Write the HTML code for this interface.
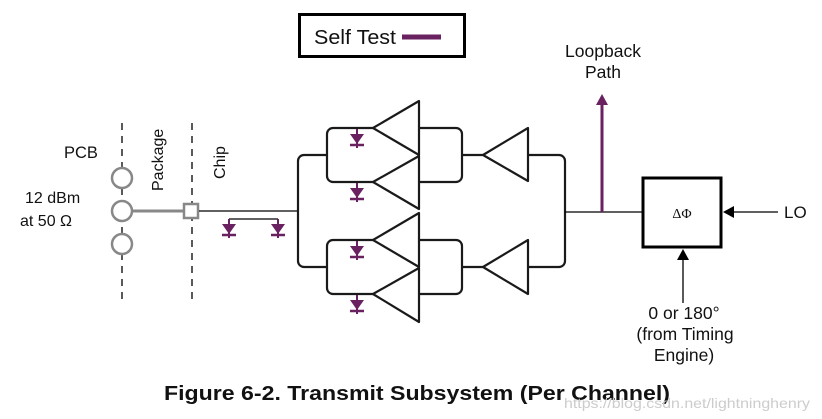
<!DOCTYPE html>
<html><head><meta charset="utf-8"><style>
body{margin:0;background:#fff;}
svg{display:block;font-family:"Liberation Sans",Arial,sans-serif;}
</style></head><body>
<svg width="822" height="419" viewBox="0 0 822 419" xmlns="http://www.w3.org/2000/svg">
<defs>
<g id="d"><line x1="0" y1="0" x2="0" y2="19" stroke="#6a2160" stroke-width="2"/><polygon points="-7,5 7,5 0,15" fill="#6a2160"/><line x1="-7" y1="16" x2="7" y2="16" stroke="#6a2160" stroke-width="2.5"/></g>
</defs>
<rect x="299.5" y="14.5" width="165" height="42" fill="#fff" stroke="#000" stroke-width="3"/>
<text x="314" y="44" font-size="20" fill="#111" textLength="82" lengthAdjust="spacingAndGlyphs">Self Test</text>
<line x1="402" y1="37" x2="441" y2="37" stroke="#6a2160" stroke-width="5"/>
<line x1="122" y1="123" x2="122" y2="302" stroke="#000" stroke-width="1.3" stroke-dasharray="7,6"/>
<line x1="192" y1="123" x2="192" y2="302" stroke="#000" stroke-width="1.3" stroke-dasharray="7,6"/>
<text x="64" y="158" font-size="16.5" fill="#111">PCB</text>
<text x="25" y="203" font-size="16" fill="#111">12 dBm</text>
<text x="20" y="226" font-size="16" fill="#111">at 50 Ω</text>
<text transform="translate(163,191) rotate(-90)" font-size="16" fill="#111">Package</text>
<text transform="translate(225,179) rotate(-90)" font-size="16" fill="#111">Chip</text>
<g fill="#fff" stroke="#888" stroke-width="2.5">
<circle cx="122" cy="178" r="10"/><circle cx="122" cy="211" r="10"/><circle cx="122" cy="244" r="10"/>
</g>
<line x1="132" y1="211" x2="183" y2="211" stroke="#888" stroke-width="3"/>
<rect x="184" y="204" width="14" height="14" fill="#fff" stroke="#888" stroke-width="2.5"/>
<line x1="199" y1="211" x2="297" y2="211" stroke="#000" stroke-width="1.3"/>
<line x1="229" y1="219" x2="278" y2="219" stroke="#000" stroke-width="1.3"/>
<use href="#d" x="229" y="219"/><use href="#d" x="278" y="219"/>
<g fill="none" stroke="#1a1a1a" stroke-width="2.2" stroke-linejoin="round">
<path d="M327,155 H304 a6,6 0 0 0 -6,6 V261 a6,6 0 0 0 6,6 H327"/>
<path d="M373,128 H333 a6,6 0 0 0 -6,6 V176 a6,6 0 0 0 6,6 H373"/>
<path d="M373,240 H333 a6,6 0 0 0 -6,6 V288 a6,6 0 0 0 6,6 H373"/>
<path d="M419,128 H456 a6,6 0 0 1 6,6 V176 a6,6 0 0 1 -6,6 H419"/>
<path d="M419,240 H456 a6,6 0 0 1 6,6 V288 a6,6 0 0 1 -6,6 H419"/>
<line x1="462" y1="155" x2="483" y2="155"/>
<line x1="462" y1="267" x2="483" y2="267"/>
<path d="M528,155 H559 a6,6 0 0 1 6,6 V261 a6,6 0 0 1 -6,6 H528"/>
<polygon points="419,101 419,155 373,128" fill="#fff"/>
<polygon points="419,156 419,209 373,182" fill="#fff"/>
<polygon points="419,213 419,267 373,240" fill="#fff"/>
<polygon points="419,268 419,322 373,294" fill="#fff"/>
<polygon points="528,128 528,181 483,155" fill="#fff"/>
<polygon points="528,240 528,294 483,267" fill="#fff"/>
</g>
<use href="#d" x="357" y="129"/><use href="#d" x="357" y="183"/>
<use href="#d" x="357" y="241"/><use href="#d" x="357" y="295"/>
<line x1="565" y1="212" x2="642" y2="212" stroke="#000" stroke-width="1.3"/>
<line x1="602" y1="212" x2="602" y2="104" stroke="#6a2160" stroke-width="3"/>
<polygon points="596,105 608,105 602,94" fill="#6a2160"/>
<text x="603" y="57" font-size="17.5" fill="#111" text-anchor="middle">Loopback</text>
<text x="603" y="78" font-size="17.5" fill="#111" text-anchor="middle">Path</text>
<rect x="643" y="178" width="78" height="69" fill="#fff" stroke="#000" stroke-width="3"/>
<text x="682" y="218" font-size="14" fill="#111" text-anchor="middle" font-family="Liberation Serif,serif">ΔΦ</text>
<line x1="733" y1="212" x2="778" y2="212" stroke="#000" stroke-width="1.3"/>
<polygon points="723,212 734,206 734,218" fill="#000"/>
<text x="784" y="218" font-size="17" fill="#111">LO</text>
<line x1="683" y1="259" x2="683" y2="303" stroke="#000" stroke-width="1.3"/>
<polygon points="683,249 677,260 689,260" fill="#000"/>
<text x="684" y="319" font-size="17.5" fill="#111" text-anchor="middle">0 or 180°</text>
<text x="685" y="340" font-size="17.5" fill="#111" text-anchor="middle">(from Timing</text>
<text x="684" y="361" font-size="17.5" fill="#111" text-anchor="middle">Engine)</text>
<text x="164" y="400" font-size="20" font-weight="bold" fill="#111" textLength="506" lengthAdjust="spacingAndGlyphs">Figure 6-2. Transmit Subsystem (Per Channel)</text>
<text x="564" y="408" font-size="14" fill="#ccc" textLength="246" lengthAdjust="spacingAndGlyphs">https://blog.csdn.net/lightninghenry</text>
</svg>
</body></html>
